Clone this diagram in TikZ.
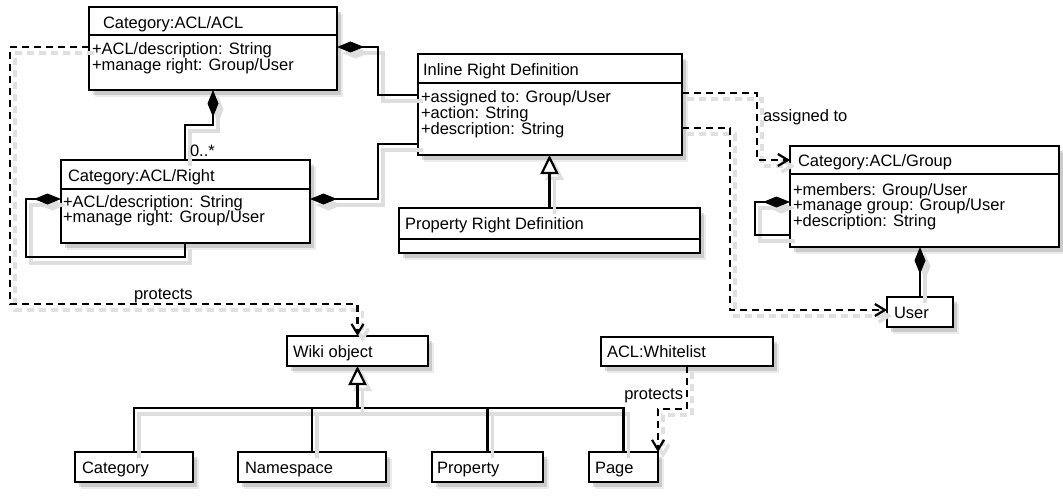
\documentclass[tikz,border=0pt]{standalone}
\usepackage{fontspec}
\setmainfont{Liberation Sans}
\usetikzlibrary{arrows.meta,shadows}
\begin{document}
\begin{tikzpicture}[x=1pt,y=-1pt,
  txt/.style={font=\fontsize{16.5}{15.7}\selectfont, inner sep=0pt, outer sep=0pt},
  box/.style={draw, line width=2.2pt, fill=white, anchor=north west, inner sep=0pt, outer sep=0pt,
    drop shadow={shadow xshift=6pt, shadow yshift=-7pt, opacity=0.15},
    drop shadow={shadow xshift=4pt, shadow yshift=-5pt, opacity=0.3}},
  hdr/.style={txt, anchor=base west},
  attr/.style={txt, anchor=north west, align=left},
  sepline/.style={line width=2.2pt},
  conn/.style={line width=2.2pt, line join=miter,
    preaction={draw=black!13, line width=3.5pt, transform canvas={shift={(5pt,-6pt)}}}},
  compos/.style={conn, -{Diamond[length=27pt, width=11pt]}},
  gener/.style={conn, -{Triangle[open, fill=white, length=19pt, width=18pt]}},
  dep/.style={line width=2.2pt, line join=miter, dash pattern=on 7pt off 5pt,
    preaction={draw=black!12, line width=3.5pt, dash pattern=on 7pt off 5pt, transform canvas={shift={(5pt,-6pt)}}},
    -{Straight Barb[length=10pt, width=12pt]}},
]
\useasboundingbox (0,0) rectangle (1063,500);

% ---- class boxes ----
\node[box, minimum width=248pt, minimum height=83pt] (acl) at (89,7) {};
\draw[sepline] ([yshift=-28pt]acl.north west) -- ([yshift=-28pt]acl.north east);
\node[hdr] (aclh) at (103,28.5) {Category:ACL/ACL};
\node[attr] (acla) at (92,42) {\rule{0pt}{13pt}+ACL/description: String\\+manage right: Group/User};

\node[box, minimum width=249pt, minimum height=83pt] (right) at (61,160) {};
\draw[sepline] ([yshift=-29pt]right.north west) -- ([yshift=-29pt]right.north east);
\node[hdr] (righth) at (68,182) {Category:ACL/Right};
\node[attr] (righta) at (63,194) {\rule{0pt}{13pt}+ACL/description: String\\+manage right: Group/User};

\node[box, minimum width=264pt, minimum height=101pt] (inl) at (418,54) {};
\draw[sepline] ([yshift=-29pt]inl.north west) -- ([yshift=-29pt]inl.north east);
\node[hdr] (inlh) at (423,76) {Inline Right Definition};
\node[attr] (inla) at (421,90) {\rule{0pt}{13pt}+assigned to: Group/User\\+action: String\\+description: String};

\node[box, minimum width=301pt, minimum height=45pt] (prop) at (399,208) {};
\draw[sepline] ([yshift=-31pt]prop.north west) -- ([yshift=-31pt]prop.north east);
\node[hdr] (proph) at (405,229) {Property Right Definition};

\node[box, minimum width=269pt, minimum height=101pt] (grp) at (790,146) {};
\draw[sepline] ([yshift=-28pt]grp.north west) -- ([yshift=-28pt]grp.north east);
\node[hdr] (grph) at (798,167) {Category:ACL/Group};
\node[attr] (grpa) at (793,182) {\rule{0pt}{13pt}+members: Group/User\\+manage group: Group/User\\+description: String};

\node[box, minimum width=66pt, minimum height=30pt] (user) at (887,297) {};
\node[hdr] (userh) at (894,318) {User};

\node[box, minimum width=141pt, minimum height=30pt] (wiki) at (287,336) {};
\node[hdr] (wikih) at (293,357) {Wiki object};

\node[box, minimum width=172pt, minimum height=29pt] (wl) at (601,337) {};
\node[hdr] (wlh) at (607,357.5) {ACL:Whitelist};

\node[box, minimum width=118pt, minimum height=30pt] (cat) at (75,452) {};
\node[hdr] (cath) at (82,473) {Category};
\node[box, minimum width=148pt, minimum height=30pt] (ns) at (238,452) {};
\node[hdr] (nsh) at (245,473) {Namespace};
\node[box, minimum width=111pt, minimum height=30pt] (propty) at (432,452) {};
\node[hdr] (proptyh) at (437,473) {Property};
\node[box, minimum width=69pt, minimum height=30pt] (page) at (589,452) {};
\node[hdr] (pageh) at (595,473) {Page};

% ---- compositions ----
\draw[compos] ([yshift=-41pt]inl.north west) -- ++(-40,0) |- ([yshift=-40pt]acl.north east);
\draw[compos] ([yshift=-90pt]inl.north west) -- ++(-40,0) |- ([yshift=-39pt]right.north east);
\draw[compos] ([xshift=124pt]right.north west) -- ++(0,-35) -| ([xshift=124pt]acl.south west);
\node[hdr] (mult) at (190,157) {0..*};
\draw[compos] ([xshift=124pt]right.south west) -- ++(0,14) -- ++(-159,0) |- ([yshift=-39pt]right.north west);
\draw[compos] ([yshift=-89pt]grp.north west) -- ++(-35,0) |- ([yshift=-56pt]grp.north west);
\draw[compos] (user.north) -- (user.north |- grp.south);

% ---- generalizations ----
\draw[gener] (prop.north) -- (prop.north |- inl.south);
\coordinate (junc) at (357.5,408);
\draw[conn] (cat.north) |- (junc) -| (page.north);
\draw[conn] (ns.north) -- (ns.north |- junc);
\draw[conn] (propty.north) -- (propty.north |- junc);
\draw[gener] (junc) -- (wiki.south);

% ---- dependencies ----
\draw[dep] ([yshift=-39pt]inl.north east) -- ++(75,0) |- ([yshift=-14pt]grp.north west);
\node[hdr] (assg) at (763,122) {assigned to};
\draw[dep] ([yshift=-74pt]inl.north east) -- ++(48,0) |- ([yshift=-13pt]user.north west);
\draw[dep] ([yshift=-40pt]acl.north west) -- ++(-79,0) -- ++(0,257) -| (wiki.north);
\node[hdr] (prot1) at (134,299) {protects};
\draw[dep] (wl.south) -- ++(0,43) -| (page.north east);
\node[txt, anchor=base east] (prot2) at (683,399) {protects};
\end{tikzpicture}
\end{document}
